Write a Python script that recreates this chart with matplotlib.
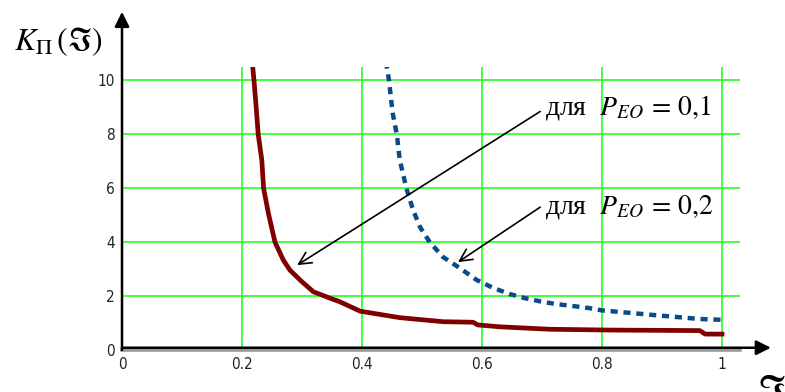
import numpy as np
import matplotlib
matplotlib.use("Agg")
import matplotlib.pyplot as plt

plt.rcParams["mathtext.fontset"] = "stix"

# curve for P_EO = 0,1 (red)
x1 = [0.217, 0.22, 0.224, 0.227, 0.233, 0.236, 0.244, 0.255, 0.269, 0.28,
      0.30, 0.319, 0.347, 0.363, 0.397, 0.463, 0.535, 0.585, 0.593, 0.63,
      0.713, 0.813, 0.963, 0.972, 1.0]
y1 = [10.7, 10.0, 8.9, 8.0, 7.05, 6.0, 5.07, 4.0, 3.33, 2.96,
      2.53, 2.16, 1.92, 1.79, 1.44, 1.2, 1.05, 1.03, 0.93, 0.86,
      0.77, 0.74, 0.72, 0.59, 0.59]

# curve for P_EO = 0,2 (blue, dashed)
x2 = [0.44, 0.445, 0.451, 0.458, 0.463, 0.474, 0.485, 0.497, 0.513, 0.535,
      0.563, 0.591, 0.619, 0.647, 0.672, 0.70, 0.725, 0.752, 0.78, 0.80,
      0.885, 0.963, 1.0]
y2 = [10.7, 10.0, 8.8, 8.0, 7.05, 6.0, 5.2, 4.55, 4.0, 3.45,
      3.04, 2.6, 2.3, 2.07, 1.92, 1.79, 1.7, 1.63, 1.55, 1.47,
      1.3, 1.15, 1.12]

xticks = [0, 0.2, 0.4, 0.6, 0.8, 1]
xticklabels = ["0", "0.2", "0.4", "0.6", "0.8", "1"]
yticks = [0, 2, 4, 6, 8, 10]

fig = plt.figure(figsize=(7.85, 3.92), dpi=100)
ax = fig.add_axes([122/785, 42/392, 618/785, 283/392])

green = "#33ff33"
for xv in xticks[1:]:
    ax.axvline(xv, color=green, lw=1.3, zorder=1)
for yv in yticks[1:]:
    ax.axhline(yv, color=green, lw=1.3, zorder=1)

ax.plot(x1, y1, color="#800000", lw=3.4, zorder=3)
ax.plot(x2, y2, color="#0a4a8a", lw=3.2, zorder=3, linestyle=(0, (1.6, 1.3)))

ax.set_xlim(0, 1.03)
ax.set_ylim(0, 10.5)
ax.set_xticks(xticks)
ax.set_xticklabels(xticklabels)
ax.set_yticks(yticks)
ax.tick_params(length=0, labelsize=11, colors="#222222", pad=5)
for lab in ax.get_xticklabels() + ax.get_yticklabels():
    lab.set_fontstretch("condensed")

for s in ["top", "right", "left"]:
    ax.spines[s].set_visible(False)
ax.spines["bottom"].set_color("#999999")
ax.spines["bottom"].set_linewidth(2.6)

# axis arrows
ax.annotate("", xy=(0, 1.195), xytext=(0, 0), xycoords="axes fraction",
            arrowprops=dict(arrowstyle="-|>", color="black", lw=1.8,
                            mutation_scale=22, shrinkA=0, shrinkB=0))
ax.annotate("", xy=(1.05, 0.008), xytext=(0, 0.008), xycoords="axes fraction",
            arrowprops=dict(arrowstyle="-|>", color="black", lw=1.8,
                            mutation_scale=22, shrinkA=0, shrinkB=0))

# labels pointing to curves
ax.annotate("", xy=(0.292, 3.15), xytext=(0.697, 8.85),
            arrowprops=dict(arrowstyle="->", color="black", lw=1.2,
                            mutation_scale=22, shrinkA=0, shrinkB=0))
ax.annotate("", xy=(0.56, 3.26), xytext=(0.697, 5.3),
            arrowprops=dict(arrowstyle="->", color="black", lw=1.2,
                            mutation_scale=22, shrinkA=0, shrinkB=0))
ax.text(0.705, 9.0, r"для  $P_{EO}\,=\,0{,}1$", family="Liberation Serif",
        fontsize=20, va="center", ha="left")
ax.text(0.705, 5.3, r"для  $P_{EO}\,=\,0{,}2$", family="Liberation Serif",
        fontsize=20, va="center", ha="left")

fig.text(14/785, 1 - 42/392, r"$K_{\mathit{\Pi}}\,(\Im)$", fontsize=23,
         va="center", ha="left")
fig.text(756/785, 1 - 372/392, r"$\Im$", fontsize=28, va="top", ha="left")

fig.savefig("out.png", dpi=100)
